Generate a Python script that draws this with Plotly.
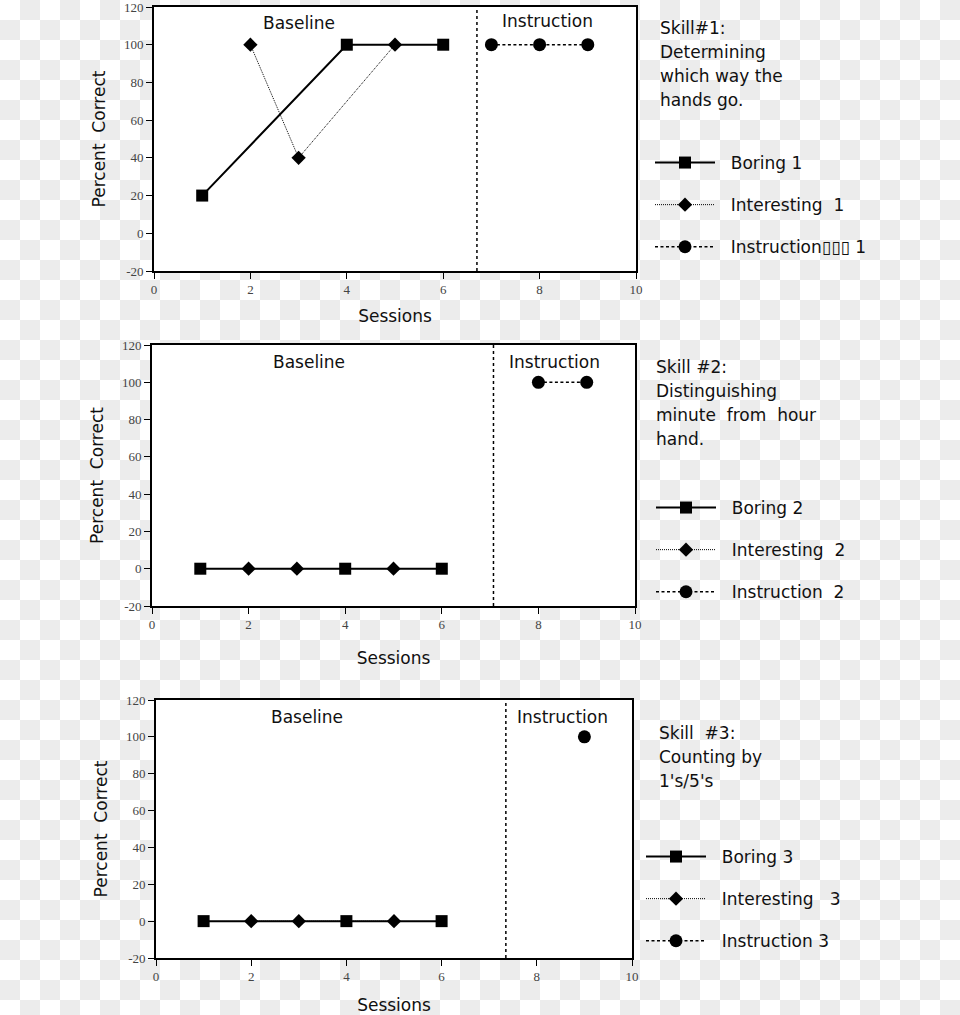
import plotly.graph_objects as go

# ---------------- data ----------------
boring_x = [1, 4, 6]
interesting_x = [2, 3, 5]

skill1_boring = [20, 100, 100]
skill1_interesting = [100, 40, 100]
skill1_instr_x = [7, 8, 9]
skill1_instr = [100, 100, 100]

skill2_boring = [0, 0, 0]
skill2_interesting = [0, 0, 0]
skill2_instr_x = [8, 9]
skill2_instr = [100, 100]

skill3_boring = [0, 0, 0]
skill3_interesting = [0, 0, 0]
skill3_instr_x = [9]
skill3_instr = [100]

phase_change = [6.7, 7.07, 7.35]

x_ticks = [0, 2, 4, 6, 8, 10]
x_tick_labels = ["0", "2", "4", "6", "8", "10"]
y_ticks = [-20, 0, 20, 40, 60, 80, 100, 120]
y_tick_labels = ["-20", "0", "20", "40", "60", "80", "100", "120"]

NB = "\u00a0"
legend_names = [
    ["Boring 1", "Interesting" + NB + " 1", "Instruction\u25af\u25af\u25af 1"],
    ["Boring 2", "Interesting" + NB + " 2", "Instruction" + NB + " 2"],
    ["Boring 3", "Interesting" + NB + NB + " 3", "Instruction 3"],
]
skill_texts = [
    ["Skill#1:", "Determining", "which way the", "hands go."],
    ["Skill #2:", "Distinguishing", "minute" + NB + " from" + NB + " hour", "hand."],
    ["Skill" + NB + " #3:", "Counting by", "1's/5's"],
]

# ---------------- layout geometry ----------------
W, H = 960, 1015
panels = [  # left, right, top, bottom in px
    (154, 636, 7, 271),
    (152, 635, 345, 606),
    (156, 632, 700, 958),
]
x_title_standoff = [14, 21, 17]
text_pos = [(658, 28), (654, 367), (657, 733)]
legend_pos = [(650, 145), (651, 490), (641, 839)]
label_pos = [((3.0, 111.5), (8.17, 112.5)), ((3.25, 111), (8.34, 111)), ((3.18, 111), (8.53, 111))]

FONT = "DejaVu Sans"
TXT = "#111111"
PAD = NB + NB

data_sets = [
    (skill1_boring, skill1_interesting, skill1_instr_x, skill1_instr),
    (skill2_boring, skill2_interesting, skill2_instr_x, skill2_instr),
    (skill3_boring, skill3_interesting, skill3_instr_x, skill3_instr),
]

fig = go.Figure()
layout = {}
annotations = []
shapes = []

# background checkerboard (the reference is a transparent image shown on a checker)
CELL = 20
parts = []
for r in range(H // CELL + 1):
    for c in range(W // CELL + 1):
        if (r + c) % 2 == 1:
            x0, x1 = c * CELL / W, (c + 1) * CELL / W
            y0, y1 = 1 - r * CELL / H, 1 - (r + 1) * CELL / H
            parts.append(f"M{x0:.5f},{y0:.5f}H{x1:.5f}V{y1:.5f}H{x0:.5f}Z")
shapes.append(dict(type="path", xref="paper", yref="paper", path="".join(parts),
                   fillcolor="#ececec", line=dict(width=0), layer="below"))

for i, (bor, intr, ix, iy) in enumerate(data_sets):
    n = i + 1
    xa = "x" if n == 1 else f"x{n}"
    ya = "y" if n == 1 else f"y{n}"
    lg = "legend" if n == 1 else f"legend{n}"
    names = [PAD + s for s in legend_names[i]]
    fig.add_trace(go.Scatter(
        x=boring_x, y=bor, mode="lines+markers", name=names[0],
        line=dict(color="black", width=2),
        marker=dict(symbol="square", size=12, color="black"),
        xaxis=xa, yaxis=ya, legend=lg, legendgroup=f"b{n}"))
    fig.add_trace(go.Scatter(
        x=interesting_x, y=intr, mode="lines+markers", name=names[1],
        line=dict(color="black", width=1, dash="1px,1px"),
        marker=dict(symbol="diamond", size=11, color="black"),
        xaxis=xa, yaxis=ya, legend=lg, legendgroup=f"i{n}"))
    fig.add_trace(go.Scatter(
        x=ix, y=iy, mode="lines+markers", name=names[2],
        line=dict(color="black", width=1.6, dash="3px,2.5px"),
        marker=dict(symbol="circle", size=13, color="black"),
        xaxis=xa, yaxis=ya, legend=lg, legendgroup=f"c{n}"))

    l, r, t, b = panels[i]
    axkey = "xaxis" if n == 1 else f"xaxis{n}"
    aykey = "yaxis" if n == 1 else f"yaxis{n}"
    layout[axkey] = dict(
        domain=[l / W, r / W], anchor=ya, range=[0, 10], automargin=False,
        tickvals=x_ticks, ticktext=x_tick_labels, ticklabeloverflow="allow",
        ticks="outside", ticklen=6, tickwidth=1, tickcolor="black",
        showline=True, linecolor="black", linewidth=1.6, mirror=True,
        showgrid=False, zeroline=False,
        tickfont=dict(family="Liberation Serif", size=13, color="#444444"),
        title=dict(text="Sessions", font=dict(family=FONT, size=17, color=TXT), standoff=x_title_standoff[i]),
    )
    layout[aykey] = dict(
        domain=[1 - b / H, 1 - t / H], anchor=xa, range=[-20, 120], automargin=False,
        tickvals=y_ticks, ticktext=y_tick_labels, ticklabeloverflow="allow",
        ticks="outside", ticklen=6, tickwidth=1, tickcolor="black",
        showline=True, linecolor="black", linewidth=1.6, mirror=True,
        showgrid=False, zeroline=False,
        tickfont=dict(family="Liberation Serif", size=13, color="#444444"),
        title=dict(text="Percent" + NB + " Correct", font=dict(family=FONT, size=17, color=TXT), standoff=14),
    )
    lx, ly = legend_pos[i]
    layout[lg] = dict(
        x=lx / W, y=1 - ly / H, xanchor="left", yanchor="top",
        bgcolor="rgba(0,0,0,0)", borderwidth=0,
        font=dict(family=FONT, size=17, color=TXT),
        tracegroupgap=17, itemwidth=60, itemclick=False, itemdoubleclick=False,
    )
    # white plot area above the checker
    shapes.append(dict(type="rect", xref=f"{xa} domain", yref=f"{ya} domain", x0=0, x1=1, y0=0, y1=1,
                       fillcolor="white", line=dict(width=0), layer="below"))
    # phase-change line
    shapes.append(dict(type="line", xref=xa, yref=f"{ya} domain", x0=phase_change[i], x1=phase_change[i],
                       y0=0, y1=1, line=dict(color="black", width=1.5, dash="3px,3px")))
    (bx, by), (inx, iny) = label_pos[i]
    annotations.append(dict(text="Baseline", x=bx, y=by, xref=xa, yref=ya, showarrow=False,
                            font=dict(family=FONT, size=17, color=TXT)))
    annotations.append(dict(text="Instruction", x=inx, y=iny, xref=xa, yref=ya, showarrow=False,
                            font=dict(family=FONT, size=17, color=TXT)))
    tx, ty = text_pos[i]
    for k, line in enumerate(skill_texts[i]):
        annotations.append(dict(text=line, x=tx / W, y=1 - (ty + 24 * k) / H, xref="paper", yref="paper",
                                xanchor="left", yanchor="middle", showarrow=False,
                                font=dict(family=FONT, size=17, color=TXT)))

fig.update_layout(
    width=W, height=H, margin=dict(l=0, r=0, t=0, b=0, autoexpand=False),
    paper_bgcolor="white", plot_bgcolor="white",
    showlegend=True, annotations=annotations, shapes=shapes,
    **layout,
)

post = ("document.documentElement.style.overflow='hidden';"
        "document.body.style.margin='0';document.body.style.overflow='hidden';"
        "var g=document.getElementsByClassName('plotly-graph-div')[0];"
        "g.style.position='absolute';g.style.left='0px';g.style.top='0px';")

fig.write_html("out.html", config={"displayModeBar": False}, post_script=post)
